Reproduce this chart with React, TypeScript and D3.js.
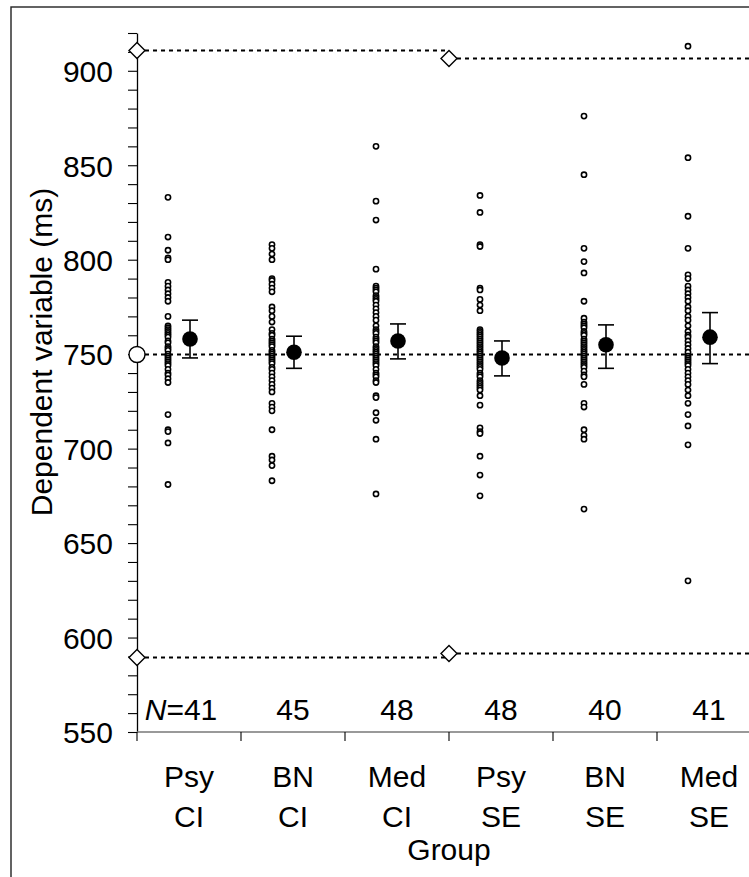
import React, { Component } from "react";
import * as d3 from "d3";

// groups along the x axis
const groups = ["PsyCI", "BNCI", "MedCI", "PsySE", "BNSE", "MedSE"];
const groupTop = ["Psy", "BN", "Med", "Psy", "BN", "Med"];
const groupBottom = ["CI", "CI", "CI", "SE", "SE", "SE"];
const groupN = ["41", "45", "48", "48", "40", "41"];

// individual scores (ms)
const psyCI = [833, 812, 805, 801, 800, 788, 786, 784, 782, 780, 778, 770, 765, 764, 763, 762, 761, 760, 759, 757, 756, 754, 753, 752, 750, 749, 748, 747, 746, 745, 744, 742, 740, 739, 737, 735, 718, 710, 709, 703, 681];
const bnCI = [808, 806, 803, 800, 790, 789, 787, 785, 783, 775, 773, 770, 767, 763, 761, 760, 758, 757, 756, 755, 754, 752, 751, 750, 749, 748, 747, 746, 745, 743, 742, 740, 738, 736, 734, 732, 730, 724, 722, 720, 710, 696, 694, 691, 683];
const medCI = [860, 831, 821, 795, 786, 785, 784, 783, 781, 780, 779, 778, 776, 774, 772, 770, 768, 765, 763, 762, 761, 759, 758, 757, 756, 754, 753, 752, 751, 750, 749, 748, 747, 746, 745, 744, 742, 740, 739, 738, 736, 735, 728, 727, 719, 715, 705, 676];
const psySE = [834, 825, 808, 807, 785, 784, 779, 776, 773, 763, 762, 761, 760, 759, 758, 757, 756, 755, 754, 753, 752, 751, 750, 749, 748, 747, 746, 745, 744, 743, 742, 740, 739, 738, 736, 735, 734, 733, 732, 731, 728, 723, 711, 709, 708, 696, 686, 675];
const bnSE = [876, 845, 806, 799, 793, 778, 769, 767, 766, 765, 764, 762, 761, 760, 758, 757, 756, 755, 754, 753, 752, 751, 750, 749, 748, 747, 746, 745, 744, 743, 741, 739, 738, 734, 724, 722, 710, 707, 705, 668];
const medSE = [913, 854, 823, 806, 792, 790, 786, 784, 782, 780, 778, 775, 773, 770, 768, 765, 762, 760, 759, 757, 755, 753, 751, 749, 748, 747, 746, 745, 744, 742, 740, 738, 736, 734, 731, 728, 724, 718, 712, 702, 630];
const scores = [psyCI, bnCI, medCI, psySE, bnSE, medSE];

// group means and error bar ends
const means = [758, 751, 757, 748, 755, 759];
const lower = [748, 742.5, 747.5, 738.5, 742.5, 745];
const upper = [768, 759.5, 766, 757, 765.5, 772];

// reference lines
const centerRef = 750;
const ciRefs = [911, 589.5];
const seRefs = [907, 592];

const FONT = "'Liberation Sans', Arial, sans-serif";

class App extends Component {
  svgRef = React.createRef();

  componentDidMount() {
    this.renderChart();
  }

  componentDidUpdate() {
    this.renderChart();
  }

  renderChart() {
    const svg = d3.select(this.svgRef.current);
    svg.selectAll("*").remove();

    const left = 137, right = 761, top = 33, bottom = 732;

    const y = d3.scaleLinear().domain([550, 920]).range([bottom, top]);
    const x = d3.scaleBand().domain(groups).range([left, right]).padding(0);
    const bw = x.bandwidth();
    const cx = (g) => x(g) + bw / 2;

    // outer frame
    svg
      .append("rect")
      .attr("x", 11)
      .attr("y", 7)
      .attr("width", 800)
      .attr("height", 900)
      .attr("fill", "none")
      .attr("stroke", "#222")
      .attr("stroke-width", 1.4);

    // y axis
    const yAxis = d3
      .axisLeft(y)
      .tickValues(d3.range(550, 921, 10))
      .tickSize(9)
      .tickSizeOuter(0)
      .tickPadding(15)
      .tickFormat((d) => (d % 50 === 0 ? d : ""));
    const gy = svg.append("g").attr("transform", `translate(${left},0)`).call(yAxis);
    gy.select(".domain").attr("stroke", "#000").attr("stroke-width", 1.3);
    gy.selectAll(".tick line").attr("stroke", "#000").attr("stroke-width", 1.1);
    gy.selectAll(".tick text")
      .attr("font-family", FONT)
      .attr("font-size", 30)
      .attr("fill", "#000")
      .attr("dy", "0.36em");

    // x axis: line plus ticks at the group boundaries
    svg
      .append("line")
      .attr("x1", left)
      .attr("x2", right)
      .attr("y1", bottom)
      .attr("y2", bottom)
      .attr("stroke", "#777")
      .attr("stroke-width", 1.6);
    svg
      .selectAll(".xtick")
      .data(groups)
      .join("line")
      .attr("class", "xtick")
      .attr("x1", (d) => x(d))
      .attr("x2", (d) => x(d))
      .attr("y1", bottom)
      .attr("y2", bottom + 9)
      .attr("stroke", "#000")
      .attr("stroke-width", 1.1);

    svg
      .selectAll(".xlab1")
      .data(groups)
      .join("text")
      .attr("class", "xlab1")
      .attr("x", (d) => cx(d))
      .attr("y", 787)
      .attr("text-anchor", "middle")
      .attr("font-family", FONT)
      .attr("font-size", 30)
      .text((d, i) => groupTop[i]);
    svg
      .selectAll(".xlab2")
      .data(groups)
      .join("text")
      .attr("class", "xlab2")
      .attr("x", (d) => cx(d))
      .attr("y", 827)
      .attr("text-anchor", "middle")
      .attr("font-family", FONT)
      .attr("font-size", 30)
      .text((d, i) => groupBottom[i]);

    svg
      .append("text")
      .attr("x", (left + right) / 2)
      .attr("y", 860)
      .attr("text-anchor", "middle")
      .attr("font-family", FONT)
      .attr("font-size", 30)
      .text("Group");

    svg
      .append("text")
      .attr("transform", `translate(52,352) rotate(-90)`)
      .attr("text-anchor", "middle")
      .attr("font-family", FONT)
      .attr("font-size", 30)
      .text("Dependent variable (ms)");

    // N labels
    const nl = svg
      .selectAll(".nlab")
      .data(groups)
      .join("text")
      .attr("class", "nlab")
      .attr("x", (d, i) => (i === 0 ? cx(d) - 8 : cx(d)))
      .attr("y", 720)
      .attr("text-anchor", "middle")
      .attr("font-family", FONT)
      .attr("font-size", 30);
    nl.each(function (d, i) {
      const t = d3.select(this);
      if (i === 0) {
        t.append("tspan").attr("font-style", "italic").text("N");
        t.append("tspan").text("=" + groupN[i]);
      } else {
        t.text(groupN[i]);
      }
    });

    // dashed reference lines
    const dash = "4,4";
    const refs = [
      { v: centerRef, x1: left, x2: right },
      { v: ciRefs[0], x1: left, x2: x(groups[3]) },
      { v: ciRefs[1], x1: left, x2: x(groups[3]) },
      { v: seRefs[0], x1: x(groups[3]), x2: right },
      { v: seRefs[1], x1: x(groups[3]), x2: right },
    ];
    svg
      .selectAll(".ref")
      .data(refs)
      .join("line")
      .attr("class", "ref")
      .attr("x1", (d) => d.x1)
      .attr("x2", (d) => d.x2)
      .attr("y1", (d) => Math.round(y(d.v)) + 0.5)
      .attr("y2", (d) => Math.round(y(d.v)) + 0.5)
      .attr("stroke", "#000")
      .attr("stroke-width", 2)
      .attr("stroke-dasharray", dash);

    // markers at line starts
    const diamonds = refs.slice(1);
    svg
      .selectAll(".diamond")
      .data(diamonds)
      .join("path")
      .attr("class", "diamond")
      .attr("d", (d) => {
        const px = d.x1, py = Math.round(y(d.v)) + 0.5, s = 8;
        return `M${px},${py - s}L${px + s},${py}L${px},${py + s}L${px - s},${py}Z`;
      })
      .attr("fill", "#fff")
      .attr("stroke", "#000")
      .attr("stroke-width", 1.4);
    svg
      .append("circle")
      .attr("cx", left)
      .attr("cy", Math.round(y(centerRef)) + 0.5)
      .attr("r", 8)
      .attr("fill", "#fff")
      .attr("stroke", "#000")
      .attr("stroke-width", 1.4);

    // individual dots
    groups.forEach((g, i) => {
      svg
        .append("g")
        .selectAll("circle")
        .data(scores[i])
        .join("circle")
        .attr("cx", cx(g) - 21)
        .attr("cy", (d) => y(d))
        .attr("r", 2.6)
        .attr("fill", "#fff")
        .attr("stroke", "#000")
        .attr("stroke-width", 1.6);
    });

    // error bars and means
    const eb = svg
      .selectAll(".eb")
      .data(groups)
      .join("g")
      .attr("class", "eb");
    eb.append("line")
      .attr("x1", (d) => cx(d) + 1)
      .attr("x2", (d) => cx(d) + 1)
      .attr("y1", (d, i) => y(lower[i]))
      .attr("y2", (d, i) => y(upper[i]))
      .attr("stroke", "#000")
      .attr("stroke-width", 1.6);
    eb.append("line")
      .attr("x1", (d) => cx(d) + 1 - 8)
      .attr("x2", (d) => cx(d) + 1 + 8)
      .attr("y1", (d, i) => y(lower[i]))
      .attr("y2", (d, i) => y(lower[i]))
      .attr("stroke", "#000")
      .attr("stroke-width", 1.6);
    eb.append("line")
      .attr("x1", (d) => cx(d) + 1 - 8)
      .attr("x2", (d) => cx(d) + 1 + 8)
      .attr("y1", (d, i) => y(upper[i]))
      .attr("y2", (d, i) => y(upper[i]))
      .attr("stroke", "#000")
      .attr("stroke-width", 1.6);
    eb.append("circle")
      .attr("cx", (d) => cx(d) + 1)
      .attr("cy", (d, i) => y(means[i]))
      .attr("r", 7.8)
      .attr("fill", "#000");
  }

  render() {
    return (
      <svg
        ref={this.svgRef}
        width={749}
        height={877}
        style={{ position: "absolute", left: 0, top: 0, background: "#fff" }}
      ></svg>
    );
  }
}

export default App;
